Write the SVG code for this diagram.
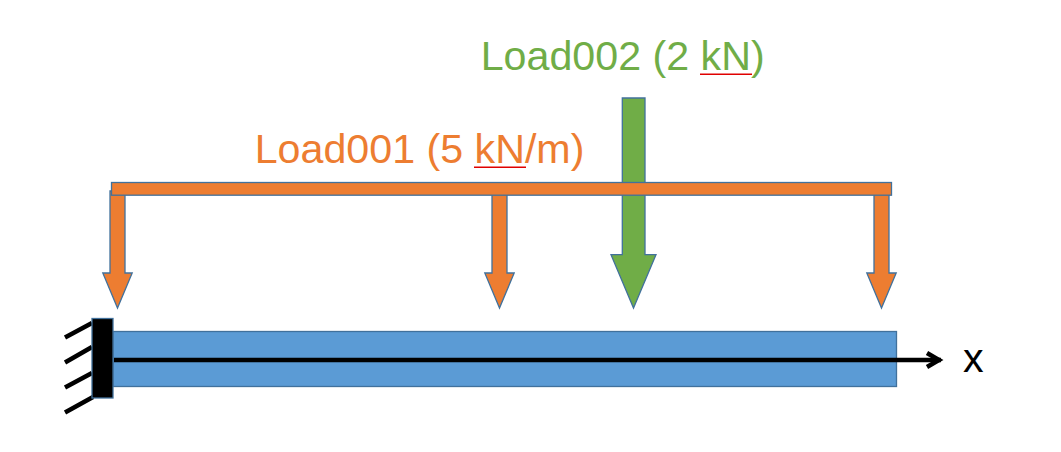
<svg xmlns="http://www.w3.org/2000/svg" width="1061" height="452" viewBox="0 0 1061 452">
<style>
.s{stroke:#41719c;stroke-width:1.3}
.o{fill:#ed7d31}
.g{fill:#70ad47}
.t{font-family:"Liberation Sans",Arial,sans-serif;font-size:41.2px}
.h{stroke:#000;stroke-width:4.5;fill:none}
.u{stroke:#e00000;stroke-width:1.4;fill:none}
</style>
<defs>
<polygon id="oa" points="-7.5,0 7.5,0 7.5,82 14.7,82 0,117 -14.7,82 -7.5,82"/>
</defs>
<rect width="1061" height="452" fill="#fff"/>
<g id="beam"><rect x="113" y="331.5" width="783.5" height="55" fill="#5b9bd5" class="s"/></g>
<g id="load002-arrow"><polygon class="g s" points="622.3,98 645,98 645,254.7 656,254.7 633.5,308 611,254.7 622.3,254.7"/></g>
<g id="load001-arrows">
<use href="#oa" x="117.5" y="191" class="o s"/>
<use href="#oa" x="499.5" y="191" class="o s"/>
<use href="#oa" x="881.5" y="191" class="o s"/>
</g>
<g id="load001-bar"><rect x="111.5" y="182.5" width="780" height="12.7" class="o s"/></g>
<g id="support">
<path class="h" d="M65,337.5 92,323M65,362.5 92,347M65,387.5 92,373M65,412.5 93,397"/>
<rect x="92" y="318.5" width="21" height="79.5" fill="#000" class="s"/>
</g>
<g id="connectors">
<path d="M114,360H941" stroke="#000" stroke-width="4.5" fill="none"/>
<path d="M927,353 939,360 927,367" stroke="#000" stroke-width="4.5" fill="none"/>
</g>
<g id="label-load001">
<text class="t" x="254.7" y="163" fill="#ed7d31">Load001 (5 kN/m)</text>
<path class="u" d="M474,167.3H526"/>
</g>
<g id="label-load002">
<text class="t" x="480.7" y="70" fill="#70ad47">Load002 (2 kN)</text>
<path class="u" d="M700,74.3H752"/>
</g>
<g id="label-x"><text class="t" x="963" y="372" fill="#000">x</text></g>
</svg>
